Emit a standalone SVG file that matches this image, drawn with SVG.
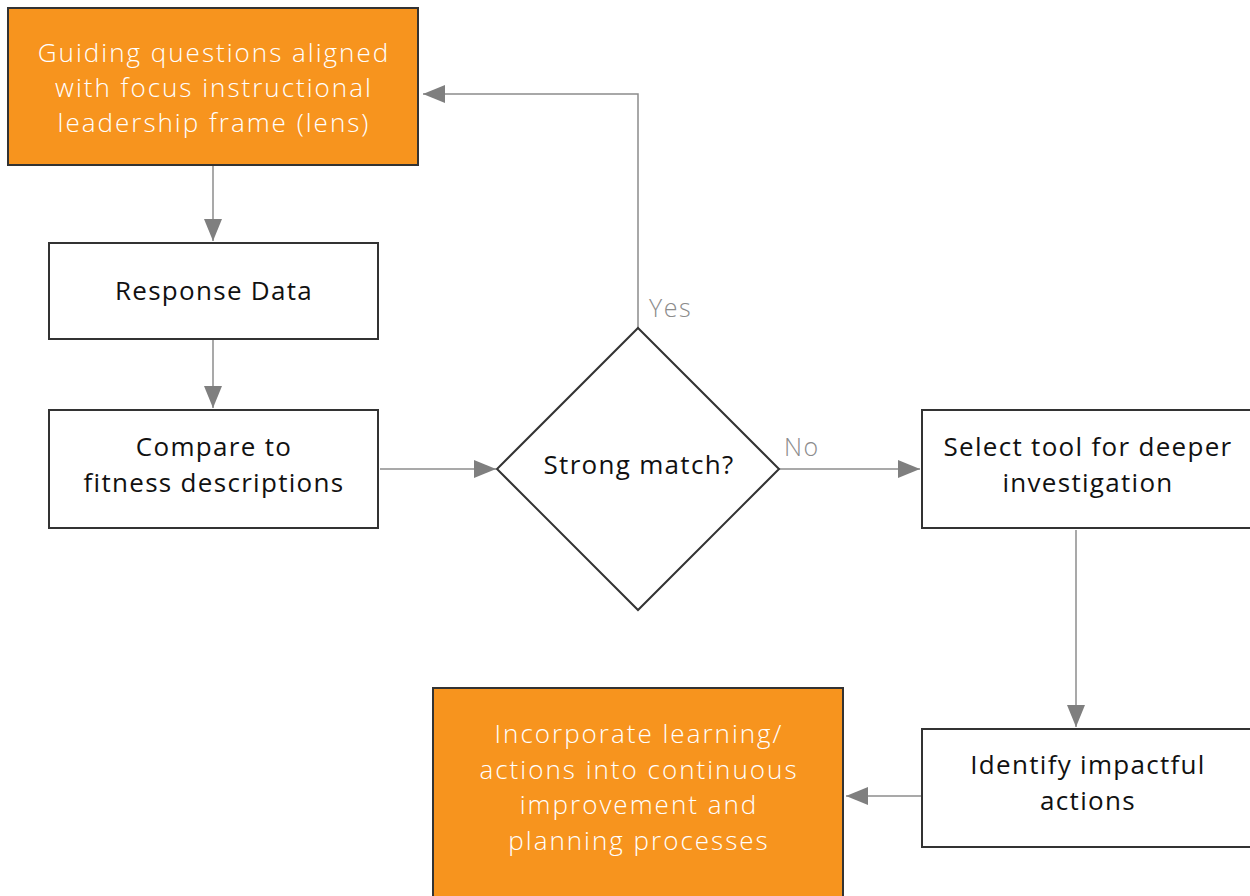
<svg xmlns="http://www.w3.org/2000/svg" width="1250" height="896" viewBox="0 0 1250 896">
<style>
.box{fill:#fff;stroke:#333;stroke-width:2}
.obox{fill:#F7941E;stroke:#333;stroke-width:2}
.t{font-family:"Open Sans",Lato,sans-serif;font-size:26px;fill:#111;text-anchor:middle;letter-spacing:1.3px}
.tw{font-family:"Open Sans",Lato,sans-serif;font-size:26px;fill:#fff;text-anchor:middle;font-weight:300;letter-spacing:2px}
.c{fill:none;stroke:#8c8c8c;stroke-width:1.5}
.lbl{font-family:"Open Sans",Lato,sans-serif;font-size:25px;fill:#8c8c8c;font-weight:300;letter-spacing:1.5px}
</style>
<defs>
<marker id="ah" markerWidth="24" markerHeight="18" refX="22" refY="9" orient="auto" markerUnits="userSpaceOnUse">
<path d="M0,0 L22,9 L0,18 Z" fill="#7f7f7f"/>
</marker>
</defs>
<rect width="1250" height="896" fill="#fff"/>
<g id="connectors">
<path class="c" d="M213,166 V241" marker-end="url(#ah)"/>
<path class="c" d="M213,340 V408" marker-end="url(#ah)"/>
<path class="c" d="M380,469 H496" marker-end="url(#ah)"/>
<path class="c" d="M638,328 V94 H423" marker-end="url(#ah)"/>
<path class="c" d="M779,469 H920" marker-end="url(#ah)"/>
<path class="c" d="M1076,530 V727" marker-end="url(#ah)"/>
<path class="c" d="M922,796 H846" marker-end="url(#ah)"/>
<text class="lbl" x="649" y="317">Yes</text>
<text class="lbl" x="784" y="456">No</text>
</g>
<g id="guiding">
<rect class="obox" x="8" y="8" width="410" height="157"/>
<text class="tw" x="214" y="62">Guiding questions aligned</text>
<text class="tw" x="214" y="97">with focus instructional</text>
<text class="tw" x="214" y="132">leadership frame (lens)</text>
</g>
<g id="response">
<rect class="box" x="49" y="243" width="329" height="96"/>
<text class="t" x="214" y="300">Response Data</text>
</g>
<g id="compare">
<rect class="box" x="49" y="410" width="329" height="118"/>
<text class="t" x="214" y="456">Compare to</text>
<text class="t" x="214" y="492">fitness descriptions</text>
</g>
<g id="decision">
<path class="box" d="M638,328 L779,469 L638,610 L497,469 Z"/>
<text class="t" x="639" y="474">Strong match?</text>
</g>
<g id="select">
<rect class="box" x="922" y="410" width="332" height="118"/>
<text class="t" x="1088" y="456">Select tool for deeper</text>
<text class="t" x="1088" y="492">investigation</text>
</g>
<g id="identify">
<rect class="box" x="922" y="729" width="332" height="118"/>
<text class="t" x="1088" y="774">Identify impactful</text>
<text class="t" x="1088" y="810">actions</text>
</g>
<g id="incorporate">
<rect class="obox" x="433" y="688" width="410" height="220"/>
<text class="tw" x="639" y="743">Incorporate learning/</text>
<text class="tw" x="639" y="779">actions into continuous</text>
<text class="tw" x="639" y="814">improvement and</text>
<text class="tw" x="639" y="850">planning processes</text>
</g>
</svg>
